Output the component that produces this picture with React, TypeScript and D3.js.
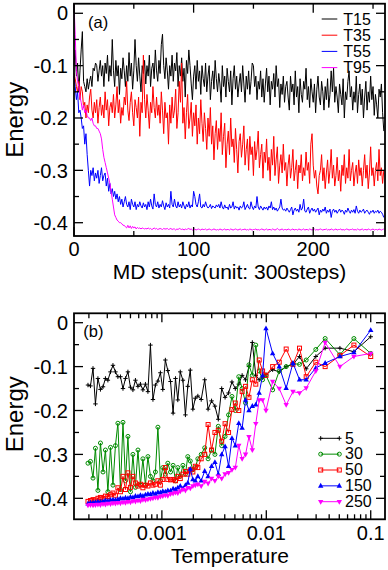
import React from 'react';
import * as d3 from 'd3';

// ---------- Panel (a): energy vs MD steps (unit: 300 steps) ----------
const seriesA = ['T15', 'T35', 'T55', 'T95'];
const colorsA = ['#000000', '#ff0000', '#0000ff', '#ff00ff'];

const eT15 = [
-.1,-.07,-.12,-.095,-.15,-.11,-.07,-.035,-.13,-.14,-.15,-.125,-.145,-.13,-.12,-.14,-.105,-.11,-.095,-.1,
-.13,-.11,-.09,-.12,-.1,-.14,-.095,-.115,-.08,-.13,-.1,-.12,-.05,-.11,-.14,-.09,-.12,-.1,-.155,-.105,
-.125,-.085,-.11,-.14,-.1,-.13,-.075,-.12,-.095,-.145,-.11,-.05,-.1,-.13,-.085,-.12,-.15,-.1,-.115,-.09,
-.135,-.1,-.12,-.08,-.14,-.105,-.095,-.125,-.07,-.11,-.13,-.09,-.115,-.06,-.04,-.1,-.125,-.085,-.11,-.145,
-.1,-.12,-.08,-.13,-.095,-.11,-.075,-.14,-.1,-.12,-.085,-.13,-.105,-.16,-.09,-.115,-.07,-.1,-.135,-.165,
-.12,-.1,-.145,-.09,-.13,-.11,-.155,-.1,-.125,-.14,-.095,-.15,-.12,-.1,-.165,-.13,-.11,-.145,-.09,-.125,
-.15,-.115,-.135,-.17,-.1,-.14,-.12,-.16,-.105,-.13,-.15,-.11,-.175,-.125,-.1,-.145,-.12,-.16,-.135,-.115,
-.15,-.1,-.135,-.17,-.12,-.145,-.11,-.155,-.13,-.095,-.1,-.14,-.12,-.165,-.13,-.145,-.11,-.16,-.125,-.17,
-.135,-.105,-.15,-.12,-.175,-.13,-.145,-.115,-.16,-.1,-.14,-.125,-.18,-.135,-.155,-.12,-.17,-.14,-.13,-.16,
-.185,-.12,-.15,-.135,-.175,-.11,-.16,-.14,-.19,-.125,-.155,-.17,-.13,-.145,-.105,-.165,-.14,-.18,-.125,-.15,
-.17,-.135,-.19,-.145,-.12,-.16,-.175,-.13,-.15,-.185,-.14,-.165,-.125,-.18,-.155,-.11,-.15,-.105,-.17,-.14,
-.16,-.19,-.135,-.155,-.175,-.125,-.2,-.15,-.165,-.13,-.11,-.16,-.14,-.185,-.15,-.17,-.12,-.19,-.155,-.135,
-.175,-.145,-.2,-.16,-.13,-.185,-.15,-.17,-.12,-.165,-.14,-.195,-.155,-.175,-.2,-.145,-.16,-.135,-.19,-.225];

const eT35 = [
-.115,-.125,-.14,-.15,-.13,-.165,-.14,-.15,-.18,-.17,-.2,-.175,-.19,-.16,-.145,-.185,-.2,-.17,-.19,-.165,
-.21,-.18,-.16,-.195,-.175,-.2,-.15,-.185,-.165,-.215,-.18,-.17,-.19,-.155,-.2,-.175,-.14,-.19,-.165,-.21,
-.18,-.195,-.16,-.175,-.13,-.185,-.205,-.17,-.15,-.19,-.215,-.165,-.18,-.2,-.16,-.235,-.17,-.19,-.08,-.165,
-.2,-.155,-.185,-.22,-.17,-.19,-.14,-.18,-.2,-.16,-.195,-.175,-.21,-.15,-.185,-.23,-.17,-.2,-.19,-.25,
-.175,-.21,-.16,-.2,-.185,-.145,-.22,-.19,-.13,-.17,-.095,-.21,-.18,-.24,-.19,-.155,-.22,-.2,-.17,-.235,
-.19,-.215,-.175,-.25,-.2,-.23,-.165,-.21,-.245,-.19,-.22,-.26,-.2,-.235,-.18,-.25,-.215,-.28,-.23,-.205,
-.26,-.22,-.245,-.19,-.27,-.235,-.21,-.295,-.25,-.225,-.27,-.2,-.255,-.24,-.285,-.22,-.26,-.305,-.245,-.23,
-.275,-.25,-.215,-.29,-.26,-.24,-.3,-.235,-.27,-.255,-.31,-.245,-.28,-.26,-.225,-.295,-.27,-.25,-.315,-.265,
-.285,-.24,-.3,-.275,-.32,-.26,-.29,-.235,-.31,-.28,-.255,-.325,-.29,-.27,-.305,-.25,-.3,-.285,-.33,-.29,
-.27,-.315,-.295,-.26,-.32,-.3,-.28,-.335,-.29,-.305,-.27,-.32,-.295,-.31,-.265,-.3,-.285,-.325,-.25,-.23,
-.29,-.315,-.3,-.33,-.345,-.31,-.3,-.27,-.32,-.295,-.335,-.305,-.28,-.325,-.3,-.26,-.315,-.29,-.33,-.31,
-.275,-.32,-.3,-.34,-.29,-.31,-.27,-.325,-.295,-.315,-.26,-.32,-.3,-.285,-.33,-.305,-.29,-.325,-.28,-.31,
-.295,-.33,-.3,-.27,-.315,-.29,-.335,-.305,-.255,-.31,-.295,-.33,-.3,-.285,-.32,-.26,-.31,-.295,-.325,-.3];

const eT55 = [
-.12,-.14,-.165,-.15,-.19,-.185,-.2,-.22,-.215,-.25,-.23,-.27,-.3,-.33,-.3,-.31,-.295,-.32,-.305,-.315,
-.3,-.325,-.31,-.295,-.32,-.31,-.305,-.33,-.315,-.34,-.325,-.345,-.335,-.35,-.34,-.355,-.345,-.36,-.35,-.365,
-.355,-.37,-.36,-.35,-.365,-.37,-.36,-.375,-.355,-.365,-.37,-.36,-.375,-.365,-.37,-.36,-.368,-.372,-.362,-.37,
-.365,-.375,-.36,-.37,-.355,-.368,-.374,-.345,-.365,-.37,-.36,-.372,-.365,-.37,-.358,-.368,-.375,-.362,-.37,-.365,
-.372,-.34,-.365,-.37,-.355,-.368,-.372,-.36,-.37,-.365,-.372,-.36,-.368,-.374,-.365,-.37,-.36,-.372,-.366,-.37,
-.34,-.35,-.365,-.37,-.36,-.345,-.37,-.372,-.365,-.37,-.36,-.368,-.372,-.37,-.365,-.373,-.368,-.37,-.372,-.366,
-.37,-.365,-.372,-.36,-.37,-.374,-.366,-.372,-.37,-.375,-.365,-.372,-.37,-.36,-.374,-.368,-.372,-.37,-.376,-.368,
-.372,-.37,-.36,-.375,-.37,-.365,-.372,-.374,-.36,-.37,-.375,-.368,-.372,-.35,-.37,-.375,-.368,-.372,-.376,-.37,
-.374,-.37,-.376,-.368,-.372,-.36,-.375,-.37,-.376,-.372,-.378,-.374,-.37,-.355,-.372,-.376,-.374,-.378,-.372,-.376,
-.38,-.375,-.37,-.385,-.376,-.372,-.378,-.374,-.38,-.365,-.376,-.372,-.355,-.378,-.38,-.374,-.37,-.382,-.376,-.372,
-.378,-.374,-.38,-.376,-.372,-.385,-.376,-.38,-.374,-.378,-.37,-.382,-.376,-.38,-.374,-.39,-.378,-.374,-.38,-.376,
-.382,-.378,-.374,-.38,-.376,-.378,-.384,-.376,-.38,-.372,-.378,-.382,-.376,-.38,-.375,-.382,-.368,-.378,-.382,-.376,
-.38,-.378,-.374,-.382,-.378,-.376,-.38,-.384,-.378,-.38,-.376,-.382,-.378,-.38,-.376,-.382,-.378,-.38,-.384,-.39];

const eT95 = [
.015,-.04,-.11,-.13,-.14,-.16,-.17,-.185,-.175,-.19,-.185,-.195,-.2,-.2,-.205,-.2,-.21,-.215,-.215,-.22,
-.22,-.225,-.23,-.24,-.26,-.275,-.285,-.295,-.305,-.315,-.325,-.34,-.355,-.37,-.385,-.39,-.395,-.397,-.4,-.4,
-.402,-.405,-.405,-.408,-.41,-.405,-.41,-.406,-.411,-.407,-.41,-.408,-.412,-.409,-.411,-.41,-.412,-.41,-.411,-.412,
-.411,-.412,-.41,-.412,-.411,-.413,-.412,-.41,-.412,-.411,-.413,-.412,-.411,-.412,-.413,-.411,-.412,-.412,-.411,-.413,
-.412,-.411,-.413,-.412,-.412,-.414,-.412,-.413,-.411,-.412,-.413,-.412,-.414,-.412,-.413,-.412,-.411,-.413,-.412,-.414,
-.413,-.412,-.414,-.413,-.412,-.413,-.414,-.412,-.413,-.413,-.412,-.414,-.413,-.412,-.413,-.414,-.413,-.412,-.413,-.414,
-.413,-.414,-.412,-.413,-.414,-.413,-.412,-.414,-.413,-.413,-.414,-.412,-.413,-.414,-.413,-.412,-.413,-.414,-.413,-.412,
-.414,-.413,-.413,-.412,-.414,-.413,-.414,-.412,-.413,-.414,-.413,-.413,-.412,-.414,-.413,-.414,-.413,-.412,-.413,-.414,
-.413,-.412,-.414,-.413,-.413,-.414,-.412,-.413,-.414,-.413,-.411,-.413,-.414,-.413,-.412,-.414,-.413,-.413,-.414,-.412,
-.413,-.414,-.413,-.412,-.414,-.413,-.413,-.414,-.412,-.413,-.414,-.413,-.412,-.414,-.413,-.413,-.414,-.412,-.413,-.414,
-.413,-.412,-.414,-.413,-.414,-.413,-.412,-.413,-.414,-.413,-.413,-.412,-.414,-.413,-.414,-.412,-.413,-.414,-.413,-.412,
-.414,-.413,-.413,-.412,-.414,-.413,-.414,-.413,-.412,-.413,-.414,-.413,-.413,-.412,-.414,-.413,-.414,-.412,-.413,-.414,
-.413,-.412,-.414,-.413,-.413,-.414,-.412,-.413,-.414,-.413,-.412,-.414,-.413,-.413,-.414,-.412,-.413,-.414,-.413,-.412];

const aXTicks = [0, 100, 200];
const aXMinor = [50, 150, 250];
const aYTicks = [0, -0.1, -0.2, -0.3, -0.4];
const aYMinor = [-0.05, -0.15, -0.25, -0.35];

// ---------- Panel (b): energy vs temperature ----------
const temperatures = [
1.96e-4,2.07e-4,2.19e-4,2.31e-4,2.44e-4,2.58e-4,2.73e-4,2.88e-4,3.04e-4,3.22e-4,
3.40e-4,3.59e-4,3.79e-4,4.01e-4,4.24e-4,4.48e-4,4.73e-4,5.00e-4,5.28e-4,5.58e-4,
5.90e-4,6.23e-4,6.58e-4,6.96e-4,7.35e-4,7.77e-4,8.21e-4,8.67e-4,9.16e-4,9.68e-4,
1.02e-3,1.08e-3,1.14e-3,1.21e-3,1.28e-3,1.35e-3,1.42e-3,1.50e-3,1.59e-3,1.68e-3,
1.77e-3,1.87e-3,1.98e-3,2.09e-3,2.21e-3,
2.38e-3,2.57e-3,2.77e-3,2.99e-3,3.22e-3,3.47e-3,3.74e-3,4.03e-3,4.35e-3,4.69e-3,
5.05e-3,5.45e-3,5.87e-3,6.33e-3,6.82e-3,7.35e-3,7.93e-3,8.55e-3,9.21e-3,9.93e-3,
1.15e-2,1.33e-2,1.55e-2,1.80e-2,2.08e-2,2.41e-2,2.98e-2,3.66e-2,5.07e-2,6.9e-2,0.1];

const e5 = [
-.142,-.144,-.104,-.185,-.127,-.152,-.146,-.127,-.131,-.112,
-.097,-.112,-.123,-.123,-.15,-.127,-.112,-.147,-.153,-.131,
-.145,-.14,-.153,-.14,-.157,-.051,-.175,-.142,-.133,-.114,
-.152,-.085,-.109,-.134,-.206,-.127,-.176,-.112,-.131,-.21,
-.145,-.108,-.197,-.172,-.167,
-.175,-.13,-.197,-.178,-.19,-.22,-.15,-.17,-.16,-.135,
-.15,-.14,-.12,-.13,-.1,-.045,-.12,-.13,-.125,-.118,
-.107,-.112,-.1,-.095,-.077,-.105,-.077,-.058,-.058,-.066,-.032];

const e30 = [
-.32,-.316,-.354,-.286,-.382,-.274,-.34,-.29,-.385,-.284,
-.37,-.28,-.229,-.38,-.227,-.36,-.259,-.385,-.3,-.375,
-.29,-.37,-.31,-.37,-.305,-.35,-.36,-.34,-.238,-.36,
-.33,-.345,-.32,-.34,-.325,-.36,-.33,-.35,-.325,-.345,
-.305,-.315,-.335,-.33,-.31,
-.3,-.285,-.31,-.29,-.3,-.236,-.28,-.259,-.21,-.168,
-.2,-.123,-.15,-.183,-.096,-.12,-.051,-.11,-.13,-.12,
-.153,-.11,-.1,-.093,-.095,-.085,-.061,-.036,-.073,-.036,-.07];

const e50 = [
-.407,-.405,-.403,-.404,-.4,-.398,-.4,-.395,-.396,-.392,
-.388,-.393,-.376,-.385,-.35,-.38,-.342,-.375,-.35,-.365,
-.372,-.368,-.376,-.37,-.372,-.365,-.37,-.368,-.36,-.37,
-.357,-.33,-.357,-.358,-.357,-.36,-.35,-.355,-.345,-.339,
-.345,-.335,-.34,-.327,-.33,
-.31,-.3,-.232,-.29,-.25,-.245,-.27,-.23,-.25,-.198,
-.183,-.2,-.157,-.145,-.17,-.13,-.14,-.085,-.11,-.12,
-.1,-.09,-.06,-.095,-.058,-.123,-.09,-.1,-.075,-.051,-.077];

const e150 = [
-.412,-.41,-.41,-.409,-.408,-.408,-.407,-.405,-.406,-.404,
-.403,-.404,-.402,-.4,-.401,-.399,-.4,-.397,-.398,-.395,
-.396,-.393,-.395,-.392,-.39,-.391,-.388,-.39,-.386,-.387,
-.384,-.385,-.382,-.383,-.378,-.38,-.376,-.372,-.378,-.37,
-.365,-.333,-.357,-.36,-.35,
-.36,-.338,-.35,-.327,-.318,-.345,-.3,-.282,-.327,-.263,
-.28,-.229,-.24,-.176,-.2,-.19,-.187,-.16,-.12,-.013,
-.07,-.1,-.149,-.092,-.13,-.13,-.103,-.092,-.077,-.068,-.017];

const e250 = [
-.416,-.415,-.416,-.415,-.414,-.415,-.413,-.414,-.412,-.413,
-.411,-.412,-.41,-.411,-.409,-.41,-.408,-.409,-.406,-.407,
-.405,-.406,-.403,-.404,-.402,-.401,-.4,-.398,-.399,-.396,
-.395,-.393,-.394,-.39,-.389,-.387,-.388,-.384,-.38,-.382,
-.376,-.377,-.372,-.37,-.368,
-.372,-.362,-.366,-.355,-.36,-.35,-.355,-.345,-.342,-.335,
-.33,-.28,-.31,-.3,-.26,-.29,-.23,-.176,-.176,-.2,
-.134,-.15,-.187,-.157,-.16,-.149,-.11,-.045,-.1,-.077,-.07];

const seriesB = ['5', '30', '50', '150', '250'];
const colorsB = ['#000000', '#008b00', '#ff0000', '#0000ff', '#ff00ff'];
const markersB = ['plus', 'circle', 'square', 'triUp', 'triDown'];

const bXTicks = [0.001, 0.01, 0.1];
const bXLabels = ['0.001', '0.01', '0.1'];
const bYTicks = [0, -0.1, -0.2, -0.3, -0.4];
const bYMinor = [-0.05, -0.15, -0.25, -0.35];

const FONT = "'Liberation Sans', Arial, Helvetica, sans-serif";

const fmtY = (v: number) => (v === 0 ? '0' : d3.format('.1f')(v).replace('−', '-'));

function Marker({ kind, x, y, color }: { kind: string; x: number; y: number; color: string }) {
  if (kind === 'plus')
    return <path d={`M${x - 2.2},${y}h4.4M${x},${y - 2.2}v4.4`} stroke={color} strokeWidth={1} fill="none" />;
  if (kind === 'circle') return <circle cx={x} cy={y} r={2} fill="none" stroke={color} strokeWidth={1} />;
  if (kind === 'square')
    return <rect x={x - 2} y={y - 2} width={4} height={4} fill="none" stroke={color} strokeWidth={1} />;
  if (kind === 'triUp')
    return <path d={`M${x},${y - 3}L${x + 2.7},${y + 1.8}L${x - 2.7},${y + 1.8}Z`} fill={color} />;
  return <path d={`M${x},${y + 3}L${x + 2.7},${y - 1.8}L${x - 2.7},${y - 1.8}Z`} fill={color} />;
}

function Frame({ l, r, t, b }: { l: number; r: number; t: number; b: number }) {
  return <rect x={l} y={t} width={r - l} height={b - t} fill="none" stroke="#000" strokeWidth={1.8} />;
}

export default function App() {
  const L = 74, R = 385;
  // panel a
  const aT = 3.7, aB = 236;
  const xA = d3.scaleLinear().domain([0, 260]).range([L, R]);
  const yA = d3.scaleLinear().domain([-0.4254, 0.0183]).range([aB, aT]);
  const dataA = [eT15, eT35, eT55, eT95];
  const lineA = d3.line<number>().x((_, i) => xA(i)).y((d) => yA(d));

  // panel b
  const bT = 313.3, bB = 519.3;
  const xB = d3.scaleLog().domain([1.44e-4, 0.137]).range([L, R]);
  const yB = d3.scaleLinear().domain([-0.4478, 0.0214]).range([bB, bT]);
  const dataB = [e5, e30, e50, e150, e250];
  const lineB = d3.line<number>().x((_, i) => xB(temperatures[i])).y((d) => yB(d));

  const bMinorX: number[] = [];
  [1e-4, 1e-3, 1e-2, 1e-1].forEach((dec) => {
    for (let m = 2; m <= 9; m++) {
      const v = dec * m;
      const [d0, d1] = xB.domain();
      if (v > d0 && v < d1) bMinorX.push(v);
    }
  });

  const MAJ = 9, MIN = 5;

  const xTicks = (scale: (v: number) => number, vals: number[], len: number, t: number, b: number, key: string) =>
    vals.map((v) => (
      <g key={key + v}>
        <line x1={scale(v)} x2={scale(v)} y1={b} y2={b - len} stroke="#000" strokeWidth={1.3} />
        <line x1={scale(v)} x2={scale(v)} y1={t} y2={t + len} stroke="#000" strokeWidth={1.3} />
      </g>
    ));
  const yTicks = (scale: (v: number) => number, vals: number[], len: number, key: string) =>
    vals.map((v) => (
      <g key={key + v}>
        <line x1={L} x2={L + len} y1={scale(v)} y2={scale(v)} stroke="#000" strokeWidth={1.3} />
        <line x1={R} x2={R - len} y1={scale(v)} y2={scale(v)} stroke="#000" strokeWidth={1.3} />
      </g>
    ));

  return (
    <svg width={388} height={570} style={{ position: 'absolute', left: 0, top: 0, background: '#fff' }} fontFamily={FONT}>
      <rect x={0} y={0} width={388} height={570} fill="#fff" />
      {/* ---------------- panel a ---------------- */}
      <g>
        {dataA.map((d, k) => (
          <path key={'la' + k} d={lineA(d) || ''} fill="none" stroke={colorsA[k]} strokeWidth={1} strokeLinejoin="round" />
        ))}
        {xTicks(xA, aXTicks, MAJ, aT, aB, 'axM')}
        {xTicks(xA, aXMinor, MIN, aT, aB, 'axm')}
        {yTicks(yA, aYTicks, MAJ, 'ayM')}
        {yTicks(yA, aYMinor, MIN, 'aym')}
        <Frame l={L} r={R} t={aT} b={aB} />
        {aXTicks.map((v) => (
          <text key={'axl' + v} x={xA(v)} y={255.5} fontSize={20} textAnchor="middle">{String(v)}</text>
        ))}
        {aYTicks.map((v) => (
          <text key={'ayl' + v} x={68} y={yA(v)} dy="0.36em" fontSize={20} textAnchor="end">{fmtY(v)}</text>
        ))}
        <text x={229.5} y={279} fontSize={21} textAnchor="middle">MD steps(unit: 300steps)</text>
        <text transform={`translate(23,${(aT + aB) / 2}) rotate(-90)`} fontSize={24} textAnchor="middle">Energy</text>
        <text x={88} y={28.3} fontSize={16.5}>(a)</text>
        {seriesA.map((s, k) => (
          <g key={'lga' + k}>
            <line x1={321.7} x2={337.3} y1={19 + 16.2 * k} y2={19 + 16.2 * k} stroke={colorsA[k]} strokeWidth={1} />
            <text x={343.3} y={25 + 16.1 * k} fontSize={16}>{s}</text>
          </g>
        ))}
      </g>

      {/* ---------------- panel b ---------------- */}
      <g>
        {dataB.map((d, k) => (
          <g key={'lb' + k}>
            <path d={lineB(d) || ''} fill="none" stroke={colorsB[k]} strokeWidth={1} strokeLinejoin="round" />
            {d.map((v, i) => (
              <Marker key={i} kind={markersB[k]} x={xB(temperatures[i])} y={yB(v)} color={colorsB[k]} />
            ))}
          </g>
        ))}
        {xTicks(xB, bXTicks, MAJ, bT, bB, 'bxM')}
        {xTicks(xB, bMinorX, MIN, bT, bB, 'bxm')}
        {yTicks(yB, bYTicks, MAJ, 'byM')}
        {yTicks(yB, bYMinor, MIN, 'bym')}
        <Frame l={L} r={R} t={bT} b={bB} />
        {bXTicks.map((v, i) => (
          <text key={'bxl' + v} x={xB(v)} y={540} fontSize={20} textAnchor="middle">{bXLabels[i]}</text>
        ))}
        {bYTicks.map((v) => (
          <text key={'byl' + v} x={68} y={yB(v)} dy="0.36em" fontSize={20} textAnchor="end">{fmtY(v)}</text>
        ))}
        <text x={230} y={563} fontSize={21} textAnchor="middle">Temperature</text>
        <text transform={`translate(23,${(bT + bB) / 2 - 2}) rotate(-90)`} fontSize={24} textAnchor="middle">Energy</text>
        <text x={83.3} y={336.6} fontSize={16.5}>(b)</text>
        {seriesB.map((s, k) => {
          const yy = 438.3 + 15.85 * k;
          return (
            <g key={'lgb' + k}>
              <line x1={320.7} x2={339.3} y1={yy} y2={yy} stroke={colorsB[k]} strokeWidth={1} />
              <Marker kind={markersB[k]} x={320.7} y={yy} color={colorsB[k]} />
              <Marker kind={markersB[k]} x={339.3} y={yy} color={colorsB[k]} />
              <text x={345} y={yy + 5.3} fontSize={16}>{s}</text>
            </g>
          );
        })}
      </g>
    </svg>
  );
}
